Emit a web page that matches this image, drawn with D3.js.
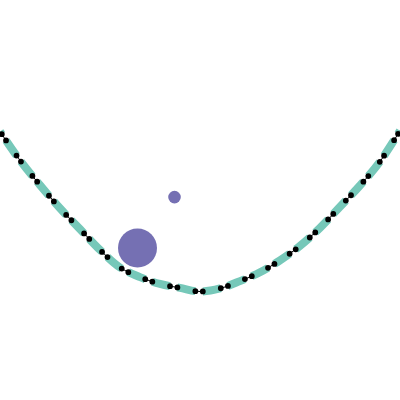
<!DOCTYPE html>
<html>
<head>
<meta charset="utf-8">
<script src="https://cdn.jsdelivr.net/npm/d3@7"></script>
<style>
  html, body { margin: 0; padding: 0; background: #fff; }
  svg { display: block; }
</style>
</head>
<body>
<script>
// ---- data ----
const curveX = [-11, -10, -9, -8, -7, -6, -5, -4, -3, -2, -1, 0, 1, 2, 3, 4, 5, 6, 7, 8, 9, 10, 11];
const curveY = [24.2, 20, 16.4, 13.3, 10.4, 7.8, 5.2, 3.0, 1.8, 0.94, 0.45, 0, 0.38, 1.3, 2.4, 3.9, 5.7, 7.96, 10.6, 13.25, 16.25, 20.1, 24.3];
const bubbleX = [-3.125, -1.275];
const bubbleY = [5.44, 11.8];
const bubbleSize = [380, 40];

const W = 400, H = 400;
const x = d3.scaleLinear().domain([-10, 10]).range([0, 400]);
const y = d3.scaleLinear().domain([0, 20]).range([291.5, 131.5]);
const r = d3.scaleSqrt().domain([0, 400]).range([0, 20]);

const svg = d3.select("body").append("svg").attr("width", W).attr("height", H);

const pts = curveX.map((v, i) => [v, curveY[i]]);
const line = d3.line().x(d => x(d[0])).y(d => y(d[1])).curve(d3.curveCatmullRom.alpha(0.5));
const inDomain = pts.filter(d => d[0] >= -10 && d[0] <= 10);

// thin black base line (full extent)
svg.append("path").attr("d", line(pts)).attr("fill", "none")
  .attr("stroke", "#000").attr("stroke-width", 1);

const dIn = line(inDomain);
const teal = svg.append("path").attr("d", dIn).attr("fill", "none")
  .attr("stroke", "#76c8b9").attr("stroke-width", 8).attr("stroke-linecap", "butt");

const dots = svg.append("path").attr("d", dIn).attr("fill", "none")
  .attr("stroke", "#000").attr("stroke-width", 5.8).attr("stroke-linecap", "round");

// align dash pattern to the gaps seen in the reference
const node = teal.node();
const total = node.getTotalLength();
function lenAtX(px) {
  let lo = 0, hi = total;
  for (let k = 0; k < 40; k++) {
    const mid = (lo + hi) / 2;
    if (node.getPointAtLength(mid).x < px) lo = mid; else hi = mid;
  }
  return (lo + hi) / 2;
}
const L0 = lenAtX(199), Lleft = lenAtX(4), Lright = lenAtX(396);
const period = ((L0 - Lleft) + (Lright - L0)) / 20;
const gap = 7.5, dash = period - gap;
const gapStart = L0 - gap / 2;
const m = ((gapStart % period) + period) % period;
teal.attr("stroke-dasharray", `${dash},${gap}`)
    .attr("stroke-dashoffset", dash - m);
dots.attr("stroke-dasharray", `0,${gap},0,${dash}`)
    .attr("stroke-dashoffset", -m);

// bubbles
svg.selectAll("circle.b").data(bubbleX.map((v, i) => ({x: v, y: bubbleY[i], s: bubbleSize[i]})))
  .join("circle").attr("class", "b")
  .attr("cx", d => x(d.x)).attr("cy", d => y(d.y)).attr("r", d => r(d.s))
  .attr("fill", "#7570b3");
</script>
</body>
</html>
